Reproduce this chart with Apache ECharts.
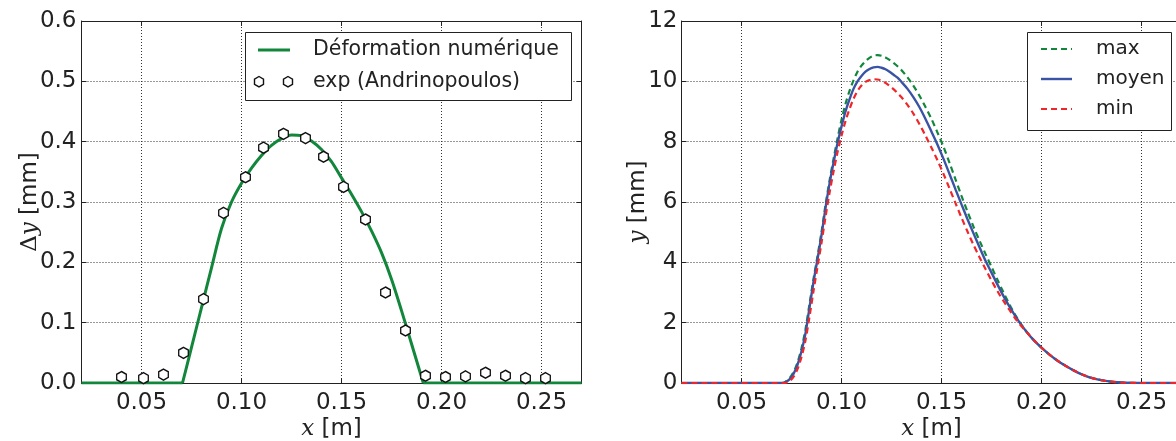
<!DOCTYPE html>
<html><head><meta charset="utf-8">
<script src="https://cdn.jsdelivr.net/npm/echarts@6/dist/echarts.min.js"></script>
<style>html,body{margin:0;padding:0;background:#fff}#c{width:1176px;height:441px}</style>
</head><body><div id="c"></div>
<script>
// ---- tick values ----
const xTicks = [0.05, 0.10, 0.15, 0.20, 0.25];

// ---- left panel: numerical deformation (green line) ----
const numX = [0.02, 0.0705, 0.075, 0.08, 0.085, 0.09, 0.095, 0.10, 0.105, 0.11, 0.115, 0.12, 0.125, 0.13, 0.135, 0.14, 0.145, 0.15, 0.155, 0.16, 0.165, 0.17, 0.175, 0.18, 0.185, 0.1909, 0.27];
const numY = [0, 0, 0.059, 0.125, 0.191, 0.256, 0.300, 0.331, 0.356, 0.377, 0.394, 0.405, 0.411, 0.410, 0.401, 0.387, 0.367, 0.340, 0.313, 0.284, 0.252, 0.216, 0.172, 0.120, 0.065, 0, 0];

// ---- left panel: experimental points (Andrinopoulos) ----
const expX = [0.040, 0.051, 0.061, 0.071, 0.081, 0.091, 0.102, 0.111, 0.121, 0.132, 0.141, 0.151, 0.162, 0.172, 0.182, 0.192, 0.202, 0.212, 0.222, 0.232, 0.242, 0.252];
const expY = [0.010, 0.008, 0.014, 0.050, 0.139, 0.282, 0.341, 0.390, 0.413, 0.406, 0.375, 0.325, 0.271, 0.150, 0.087, 0.012, 0.010, 0.011, 0.017, 0.012, 0.008, 0.008];

// ---- right panel: y profiles ----
const rX = [0.02, 0.070, 0.0715, 0.074, 0.076, 0.078, 0.080, 0.082, 0.084, 0.086,
            0.088, 0.090, 0.092, 0.094, 0.096, 0.098, 0.100, 0.102, 0.104, 0.106,
            0.108, 0.110, 0.112, 0.114, 0.116, 0.118, 0.120, 0.122, 0.124, 0.126,
            0.128, 0.130, 0.133, 0.136, 0.139, 0.142, 0.145, 0.148, 0.151, 0.154,
            0.157, 0.160, 0.163, 0.166, 0.169, 0.172, 0.175, 0.178, 0.181, 0.184,
            0.187, 0.190, 0.193, 0.196, 0.200, 0.204, 0.208, 0.212, 0.216, 0.220,
            0.224, 0.228, 0.232, 0.236, 0.240, 0.245, 0.250, 0.270];
const yMax = [0, 0, 0.02, 0.16, 0.36, 0.68, 1.15, 1.78, 2.62, 3.45,
              4.2, 5.0, 5.9, 6.7, 7.42, 8.1, 8.72, 9.25, 9.68, 10.03,
              10.32, 10.52, 10.67, 10.78, 10.85, 10.87, 10.85, 10.79, 10.71, 10.61,
              10.5, 10.37, 10.13, 9.85, 9.52, 9.15, 8.75, 8.3, 7.83, 7.3,
              6.75, 6.2, 5.68, 5.18, 4.72, 4.28, 3.85, 3.42, 3.0, 2.6,
              2.24, 1.93, 1.66, 1.43, 1.17, 0.94, 0.74, 0.57, 0.42, 0.29,
              0.19, 0.12, 0.07, 0.035, 0.015, 0.004, 0, 0];
const yMoyen = [0, 0, 0.01, 0.12, 0.3, 0.6, 1.05, 1.65, 2.5, 3.35,
                4.1, 4.9, 5.8, 6.6, 7.3, 7.95, 8.5, 9.0, 9.4, 9.75,
                10.0, 10.18, 10.32, 10.41, 10.46, 10.48, 10.45, 10.4, 10.32, 10.22,
                10.12, 9.98, 9.75, 9.47, 9.14, 8.75, 8.33, 7.9, 7.43, 6.93,
                6.42, 5.92, 5.43, 4.96, 4.5, 4.05, 3.66, 3.26, 2.88, 2.53,
                2.21, 1.92, 1.66, 1.43, 1.17, 0.94, 0.74, 0.57, 0.42, 0.29,
                0.19, 0.12, 0.07, 0.035, 0.015, 0.004, 0, 0];
const yMin = [0, 0, 0, 0.06, 0.2, 0.46, 0.86, 1.42, 2.2, 3.05,
              3.85, 4.65, 5.5, 6.3, 7.0, 7.65, 8.2, 8.68, 9.08, 9.42,
              9.68, 9.86, 9.98, 10.04, 10.07, 10.06, 10.02, 9.95, 9.85, 9.74,
              9.61, 9.47, 9.22, 8.92, 8.58, 8.2, 7.8, 7.38, 6.93, 6.45,
              5.96, 5.48, 5.02, 4.58, 4.17, 3.78, 3.4, 3.04, 2.72, 2.42,
              2.13, 1.88, 1.66, 1.43, 1.17, 0.94, 0.74, 0.57, 0.42, 0.29,
              0.19, 0.12, 0.07, 0.035, 0.015, 0.004, 0, 0];

const zip = (a, b) => a.map((v, i) => [v, b[i]]);
const numPts = zip(numX, numY);

const FONT = 'DejaVu Sans';
const TXT = '#222';
const FRAME = '#222';
const C_GREEN = '#12873c', C_BLUE = '#3a53a4', C_RED = '#f0262a';
const HEX = 'path://M0,-1L0.866,-0.5L0.866,0.5L0,1L-0.866,0.5L-0.866,-0.5Z';

const gridL = {left: 81.5, top: 21, width: 500, height: 362, outerBoundsMode: 'none', containLabel: false};
const gridR = {left: 681.5, top: 21, width: 500, height: 362, outerBoundsMode: 'none', containLabel: false};

function xBottom(gi) {
  return {
    type: 'value', gridIndex: gi, position: 'bottom', min: 0.02, max: 0.27,
    name: '{i|x} [m]', nameLocation: 'middle', nameGap: 35, nameMoveOverlap: false,
    nameTextStyle: {fontFamily: FONT, fontSize: 23, color: TXT,
      rich: {i: {fontFamily: 'DejaVu Serif', fontStyle: 'italic', fontSize: 23, color: TXT}}},
    axisLine: {show: true, lineStyle: {color: FRAME, width: 1}},
    axisTick: {show: true, inside: true, length: 5, customValues: xTicks, lineStyle: {color: FRAME}},
    axisLabel: {customValues: xTicks, margin: 9, fontFamily: FONT, fontSize: 23, color: TXT,
      formatter: v => v.toFixed(2)},
    splitLine: {show: true, lineStyle: {color: '#333', type: [1, 2], width: 1}}
  };
}
function xTop(gi) {
  return {
    type: 'value', gridIndex: gi, position: 'top', min: 0.02, max: 0.27,
    axisLine: {show: true, onZero: false, lineStyle: {color: FRAME, width: 1}},
    axisTick: {show: true, inside: true, length: 5, customValues: xTicks, lineStyle: {color: FRAME}},
    axisLabel: {show: false}, splitLine: {show: false}
  };
}

const greenLine = {color: C_GREEN, width: 3};

const option = {
  backgroundColor: '#fff',
  animation: false,
  grid: [gridL, gridR],
  xAxis: [xBottom(0), xBottom(1), xTop(0), xTop(1)],
  yAxis: [
    {
      type: 'value', gridIndex: 0, min: 0, max: 0.6, interval: 0.1,
      name: '{m|Δ}{i|y} [mm]', nameLocation: 'middle', nameGap: 40, nameMoveOverlap: false,
      nameTextStyle: {fontFamily: FONT, fontSize: 23, color: TXT,
        rich: {m: {fontFamily: 'DejaVu Serif', fontSize: 23, color: TXT},
               i: {fontFamily: 'DejaVu Serif', fontStyle: 'italic', fontSize: 23, color: TXT}}},
      axisLine: {show: true, onZero: false, lineStyle: {color: FRAME, width: 1}},
      axisTick: {show: true, inside: true, length: 5, lineStyle: {color: FRAME}},
      axisLabel: {margin: 5, fontFamily: FONT, fontSize: 23, color: TXT, formatter: v => v.toFixed(1)},
      splitLine: {show: true, lineStyle: {color: '#333', type: [1, 2], width: 1}}
    },
    {
      type: 'value', gridIndex: 1, min: 0, max: 12, interval: 2,
      name: '{i|y} [mm]', nameLocation: 'middle', nameGap: 32, nameMoveOverlap: false,
      nameTextStyle: {fontFamily: FONT, fontSize: 23, color: TXT,
        rich: {i: {fontFamily: 'DejaVu Serif', fontStyle: 'italic', fontSize: 23, color: TXT}}},
      axisLine: {show: true, onZero: false, lineStyle: {color: FRAME, width: 1}},
      axisTick: {show: true, inside: true, length: 5, lineStyle: {color: FRAME}},
      axisLabel: {margin: 4, fontFamily: FONT, fontSize: 23, color: TXT, formatter: v => String(v)},
      splitLine: {show: true, lineStyle: {color: '#333', type: [1, 2], width: 1}}
    },
    {
      type: 'value', gridIndex: 0, position: 'right', min: 0, max: 0.6, interval: 0.1,
      axisLine: {show: true, onZero: false, lineStyle: {color: FRAME, width: 1}},
      axisTick: {show: true, inside: true, length: 5, lineStyle: {color: FRAME}},
      axisLabel: {show: false}, splitLine: {show: false}
    }
  ],
  series: [
    // flat parts and arch of the numerical curve (same line, split so smoothing keeps sharp corners)
    {name: 'Déformation numérique', type: 'line', xAxisIndex: 0, yAxisIndex: 0,
     data: numPts.slice(0, 2), showSymbol: false, symbol: 'none', z: 2, lineStyle: greenLine},
    {name: 'Déformation numérique', type: 'line', xAxisIndex: 0, yAxisIndex: 0,
     data: numPts.slice(1, -1), smooth: 0.3, showSymbol: false, symbol: 'none', z: 2, lineStyle: greenLine},
    {name: 'Déformation numérique', type: 'line', xAxisIndex: 0, yAxisIndex: 0,
     data: numPts.slice(-2), showSymbol: false, symbol: 'none', z: 2, lineStyle: greenLine},
    {name: 'exp (Andrinopoulos)', type: 'scatter', xAxisIndex: 0, yAxisIndex: 0,
     data: zip(expX, expY), symbol: HEX, symbolSize: [9.6, 11], z: 3,
     itemStyle: {color: '#fff', borderColor: '#111', borderWidth: 1.4, opacity: 1}},
    {name: 'max', type: 'line', xAxisIndex: 1, yAxisIndex: 1,
     data: zip(rX, yMax), smooth: 0.3, showSymbol: false, symbol: 'none', z: 2,
     lineStyle: {color: C_GREEN, width: 2.2, type: [6, 4]}},
    {name: 'moyen', type: 'line', xAxisIndex: 1, yAxisIndex: 1,
     data: zip(rX, yMoyen), smooth: 0.3, showSymbol: false, symbol: 'none', z: 3,
     lineStyle: {color: C_BLUE, width: 2.4}},
    {name: 'min', type: 'line', xAxisIndex: 1, yAxisIndex: 1,
     data: zip(rX, yMin), smooth: 0.3, showSymbol: false, symbol: 'none', z: 4,
     lineStyle: {color: C_RED, width: 2.2, type: [6, 4]}}
  ],
  graphic: [
    // left legend
    {type: 'rect', z: 100, shape: {x: 245.5, y: 32.5, width: 326, height: 68},
     style: {fill: '#fff', stroke: FRAME, lineWidth: 1}},
    {type: 'line', z: 101, shape: {x1: 258, y1: 50, x2: 290, y2: 50},
     style: {stroke: C_GREEN, lineWidth: 3}},
    {type: 'text', z: 101, x: 313, y: 50,
     style: {text: 'Déformation numérique', font: '20.5px "DejaVu Sans"', fill: TXT, verticalAlign: 'middle'}},
    {type: 'polygon', z: 101, shape: {points: [[259, 76.5], [263.5, 79.1], [263.5, 84.3], [259, 86.9], [254.5, 84.3], [254.5, 79.1]]},
     style: {fill: '#fff', stroke: '#111', lineWidth: 1.4}},
    {type: 'polygon', z: 101, shape: {points: [[288, 76.5], [292.5, 79.1], [292.5, 84.3], [288, 86.9], [283.5, 84.3], [283.5, 79.1]]},
     style: {fill: '#fff', stroke: '#111', lineWidth: 1.4}},
    {type: 'text', z: 101, x: 313, y: 81.7,
     style: {text: 'exp (Andrinopoulos)', font: '20.5px "DejaVu Sans"', fill: TXT, verticalAlign: 'middle'}},
    // right legend
    {type: 'rect', z: 100, shape: {x: 1027.5, y: 32.5, width: 144, height: 98},
     style: {fill: '#fff', stroke: FRAME, lineWidth: 1}},
    {type: 'line', z: 101, shape: {x1: 1041, y1: 49, x2: 1072, y2: 49},
     style: {stroke: C_GREEN, lineWidth: 2.2, lineDash: [6, 4]}},
    {type: 'line', z: 101, shape: {x1: 1041, y1: 79, x2: 1072, y2: 79},
     style: {stroke: C_BLUE, lineWidth: 2.4}},
    {type: 'line', z: 101, shape: {x1: 1041, y1: 109, x2: 1072, y2: 109},
     style: {stroke: C_RED, lineWidth: 2.2, lineDash: [6, 4]}},
    {type: 'text', z: 101, x: 1096, y: 49,
     style: {text: 'max', font: '20px "DejaVu Sans"', fill: TXT, verticalAlign: 'middle'}},
    {type: 'text', z: 101, x: 1096, y: 79,
     style: {text: 'moyen', font: '20px "DejaVu Sans"', fill: TXT, verticalAlign: 'middle'}},
    {type: 'text', z: 101, x: 1096, y: 109,
     style: {text: 'min', font: '20px "DejaVu Sans"', fill: TXT, verticalAlign: 'middle'}}
  ]
};

const chart = echarts.init(document.getElementById('c'), null, {renderer: 'canvas'});
chart.setOption(option);
</script>
</body></html>
